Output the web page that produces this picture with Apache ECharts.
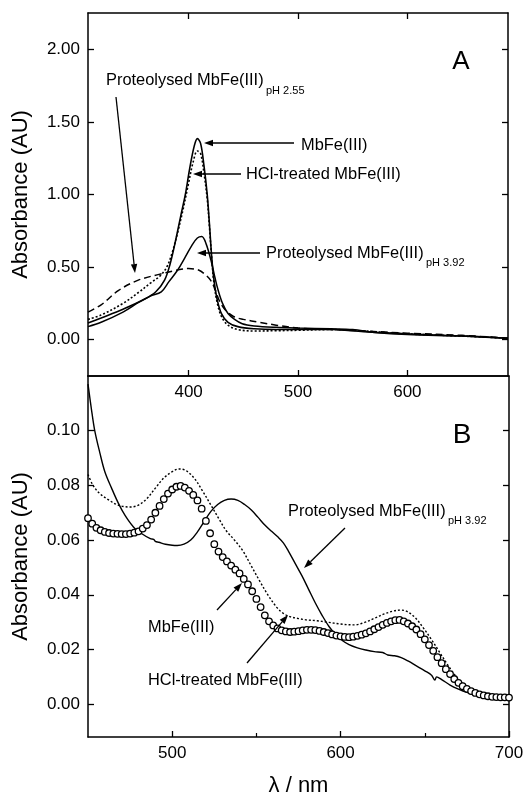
<!DOCTYPE html>
<html><head><meta charset="utf-8">
<script src="https://cdn.jsdelivr.net/npm/echarts@6/dist/echarts.min.js"></script>
<style>html,body{margin:0;padding:0;background:#fff}#c{width:527px;height:798px}</style>
</head><body><div id="c"></div>
<script>
const FONT = 'Liberation Sans, Arial, sans-serif';

// ---------- Panel A (top) ----------
const topMbWl  = [308, 320, 340, 360, 370, 378, 383, 388, 393, 397, 401, 405, 408, 411, 414, 417, 419, 421, 423, 426, 430, 436, 445, 460, 480, 500, 530, 560, 600, 650, 692];
const topMbAbs = [0.115, 0.15, 0.21, 0.28, 0.33, 0.41, 0.52, 0.68, 0.86, 1.00, 1.18, 1.33, 1.385, 1.35, 1.20, 1.00, 0.80, 0.58, 0.42, 0.28, 0.18, 0.12, 0.09, 0.075, 0.07, 0.07, 0.07, 0.055, 0.04, 0.025, 0.01];

const topHclWl  = [308, 320, 340, 355, 365, 374, 380, 385, 390, 395, 400, 404, 408, 411, 414, 417, 419, 421, 423, 426, 430, 436, 445, 460, 480, 500, 530, 560, 600, 650, 692];
const topHclAbs = [0.14, 0.17, 0.25, 0.33, 0.39, 0.44, 0.50, 0.60, 0.74, 0.90, 1.08, 1.22, 1.30, 1.28, 1.15, 0.97, 0.78, 0.57, 0.40, 0.26, 0.16, 0.10, 0.07, 0.06, 0.062, 0.065, 0.07, 0.06, 0.04, 0.025, 0.01];

const topP392Wl  = [308, 320, 340, 355, 365, 375, 382, 390, 397, 403, 408, 412, 416, 421, 424, 427, 431, 436, 442, 449, 460, 480, 500, 530, 550, 570, 600, 650, 692];
const topP392Abs = [0.09, 0.12, 0.19, 0.26, 0.30, 0.33, 0.40, 0.48, 0.57, 0.65, 0.70, 0.71, 0.66, 0.53, 0.43, 0.34, 0.25, 0.18, 0.14, 0.11, 0.095, 0.085, 0.08, 0.075, 0.07, 0.05, 0.035, 0.025, 0.01];

const topP255Wl  = [308, 320, 336, 354, 373, 390, 400, 409, 415, 420, 424, 428, 433, 441, 450, 465, 480, 500, 530, 560, 600, 650, 692];
const topP255Abs = [0.19, 0.24, 0.34, 0.41, 0.45, 0.48, 0.49, 0.48, 0.45, 0.41, 0.35, 0.27, 0.21, 0.16, 0.14, 0.12, 0.10, 0.08, 0.07, 0.06, 0.045, 0.03, 0.01];

// ---------- Panel B (bottom) ----------
const botMbWl = [450, 452.5, 455, 457.5, 460, 462.5, 465, 467.5, 470, 472.5, 475, 477.5, 480, 482.5, 485, 487.5, 490, 492.5, 495, 497.5, 500, 502.5, 505, 507.5, 510, 512.5, 515, 517.5, 520, 522.5, 525, 527.5, 530, 532.5, 535, 537.5, 540, 542.5, 545, 547.5, 550, 552.5, 555, 557.5, 560, 562.5, 565, 567.5, 570, 572.5, 575, 577.5, 580, 582.5, 585, 587.5, 590, 592.5, 595, 597.5, 600, 602.5, 605, 607.5, 610, 612.5, 615, 617.5, 620, 622.5, 625, 627.5, 630, 632.5, 635, 637.5, 640, 642.5, 645, 647.5, 650, 652.5, 655, 657.5, 660, 662.5, 665, 667.5, 670, 672.5, 675, 677.5, 680, 682.5, 685, 687.5, 690, 692.5, 695, 697.5, 700];
const botMbAbs = [0.0680, 0.0660, 0.0645, 0.0636, 0.0630, 0.0626, 0.0624, 0.0623, 0.0622, 0.0622, 0.0624, 0.0627, 0.0632, 0.0642, 0.0655, 0.0675, 0.0700, 0.0725, 0.0750, 0.0770, 0.0785, 0.0795, 0.0798, 0.0792, 0.0780, 0.0765, 0.0745, 0.0715, 0.0670, 0.0625, 0.0585, 0.0558, 0.0538, 0.0522, 0.0507, 0.0492, 0.0478, 0.0458, 0.0438, 0.0413, 0.0385, 0.0355, 0.0325, 0.0303, 0.0288, 0.0277, 0.0270, 0.0266, 0.0264, 0.0265, 0.0267, 0.0270, 0.0272, 0.0272, 0.0271, 0.0268, 0.0264, 0.0260, 0.0255, 0.0251, 0.0248, 0.0246, 0.0245, 0.0247, 0.0250, 0.0254, 0.0259, 0.0266, 0.0274, 0.0282, 0.0290, 0.0297, 0.0303, 0.0307, 0.0308, 0.0303, 0.0295, 0.0285, 0.0273, 0.0256, 0.0237, 0.0216, 0.0195, 0.0172, 0.0150, 0.0128, 0.0110, 0.0092, 0.0078, 0.0066, 0.0056, 0.0048, 0.0041, 0.0036, 0.0032, 0.0029, 0.0027, 0.0026, 0.0025, 0.0025, 0.0024];

const botHclWl  = [450, 453, 457, 462, 467, 471, 475, 480, 485, 490, 495, 500, 504, 508, 513, 518, 523, 528, 532, 537, 542, 547, 552, 557, 562, 566, 570, 575, 580, 586, 592, 600, 608, 614, 620, 626, 631, 635, 639, 644, 649, 654, 659, 664, 669, 674, 680, 686, 692, 700];
const botHclAbs = [0.0840, 0.0800, 0.0770, 0.0748, 0.0730, 0.0723, 0.0721, 0.0728, 0.0752, 0.0790, 0.0827, 0.0850, 0.0860, 0.0855, 0.0827, 0.0780, 0.0728, 0.0675, 0.0635, 0.0600, 0.0560, 0.0505, 0.0450, 0.0398, 0.0355, 0.0332, 0.0320, 0.0313, 0.0308, 0.0305, 0.0300, 0.0293, 0.0290, 0.0298, 0.0314, 0.0330, 0.0340, 0.0344, 0.0340, 0.0318, 0.0280, 0.0236, 0.0188, 0.0140, 0.0098, 0.0070, 0.0048, 0.0035, 0.0028, 0.0025];

const botP392Wl  = [450, 452, 454, 457, 460, 464, 468, 472, 477, 482, 487, 489, 490, 492, 496, 500, 503, 507, 511, 515, 519, 523, 527, 531, 535, 539, 543, 547, 551, 555, 559, 563, 566, 569, 573, 577, 581, 585, 589, 593, 597, 601, 605, 610, 615, 620, 625, 628, 632, 636, 640, 645, 650, 654, 656, 657, 660, 665, 670, 675, 680, 685, 690, 695, 700];
const botP392Abs = [0.1170, 0.1080, 0.1000, 0.0920, 0.0850, 0.0790, 0.0735, 0.0690, 0.0648, 0.0623, 0.0605, 0.0603, 0.0595, 0.0592, 0.0585, 0.0581, 0.0580, 0.0585, 0.0600, 0.0630, 0.0668, 0.0705, 0.0730, 0.0745, 0.0750, 0.0745, 0.0730, 0.0710, 0.0683, 0.0655, 0.0632, 0.0610, 0.0590, 0.0560, 0.0515, 0.0470, 0.0420, 0.0370, 0.0325, 0.0285, 0.0255, 0.0233, 0.0218, 0.0206, 0.0198, 0.0192, 0.0189, 0.0180, 0.0177, 0.0170, 0.0158, 0.0140, 0.0122, 0.0106, 0.0088, 0.0100, 0.0090, 0.0070, 0.0055, 0.0043, 0.0035, 0.0030, 0.0026, 0.0024, 0.0023];

// ---------- Axis ticks ----------
const topXTicks = [400, 500, 600];
const topYTicks = [0, 0.5, 1.0, 1.5, 2.0];
const botXTicks = [500, 600, 700];
const botXMinor = [550, 650];
const botYTicks = [0, 0.02, 0.04, 0.06, 0.08, 0.10];

function zip(a, b) { return a.map((x, i) => [x, b[i]]); }

const chart = echarts.init(document.getElementById('c'));
const lineAx = { show: true, onZero: false, lineStyle: { color: '#000', width: 1.5 } };

function xAx(grid, pos, min, max, ticks, labels, extra) {
  return Object.assign({
    type: 'value', gridIndex: grid, position: pos, min: min, max: max,
    axisLine: lineAx,
    axisTick: { show: true, inside: true, length: 6, customValues: ticks, lineStyle: { color: '#000', width: 1.3 } },
    axisLabel: labels ? { show: true, customValues: labels, fontSize: 17, color: '#000', fontFamily: FONT, margin: 8 } : { show: false },
    splitLine: { show: false }
  }, extra || {});
}
function yAx(grid, pos, min, max, ticks, labels, extra) {
  return Object.assign({
    type: 'value', gridIndex: grid, position: pos, min: min, max: max,
    axisLine: lineAx,
    axisTick: { show: true, inside: true, length: 6, customValues: ticks, lineStyle: { color: '#000', width: 1.3 } },
    axisLabel: labels ? { show: true, customValues: labels, fontSize: 17, color: '#000', fontFamily: FONT, margin: 8,
      formatter: v => v.toFixed(2) } : { show: false },
    splitLine: { show: false }
  }, extra || {});
}
const nameStyle = { fontSize: 22, color: '#000', fontFamily: FONT };

function lineSeries(xi, yi, data, type, width) {
  return {
    type: 'line', xAxisIndex: xi, yAxisIndex: yi, data: data, showSymbol: false, smooth: 0.35,
    lineStyle: { color: '#000', width: width || 1.5, type: type },
    z: 3
  };
}

function arrow(x1, y1, x2, y2) {
  const dx = x2 - x1, dy = y2 - y1, L = Math.hypot(dx, dy), ux = dx / L, uy = dy / L;
  const hl = 9, hw = 3.2;
  const bx = x2 - ux * hl, by = y2 - uy * hl;
  return [
    { type: 'line', shape: { x1: x1, y1: y1, x2: bx, y2: by }, style: { stroke: '#000', lineWidth: 1.3 }, z: 10 },
    { type: 'polygon', shape: { points: [[x2, y2], [bx - uy * hw, by + ux * hw], [bx + uy * hw, by - ux * hw]] }, style: { fill: '#000' }, z: 10 }
  ];
}
function txt(x, y, s, size) {
  return { type: 'text', x: x, y: y, z: 10,
    style: { text: s, fill: '#000', font: (size || 16) + 'px ' + FONT, verticalAlign: 'middle', align: 'left' } };
}
function ctxt(x, y, s, size) {
  return { type: 'text', x: x, y: y, z: 10,
    style: { text: s, fill: '#000', font: size + 'px ' + FONT, verticalAlign: 'middle', align: 'center' } };
}

const graphics = [].concat(
  // Panel A
  [txt(106, 80, 'Proteolysed MbFe(III)', 16.4), txt(266, 91, 'pH 2.55', 11)],
  arrow(116, 97, 135, 273),
  [txt(301, 145, 'MbFe(III)', 16.4)], arrow(294, 143, 204, 143),
  [txt(246, 174, 'HCl-treated MbFe(III)', 16.4)], arrow(241, 174, 193, 174),
  [txt(266, 253, 'Proteolysed MbFe(III)', 16.4), txt(426, 263, 'pH 3.92', 11)], arrow(260, 253, 197, 253),
  [ctxt(461, 62, 'A', 26)],
  // Panel B
  [txt(288, 511, 'Proteolysed MbFe(III)', 16.4), txt(448, 521, 'pH 3.92', 11)], arrow(345, 528, 304, 568),
  [txt(148, 627, 'MbFe(III)', 16.4)], arrow(217, 610, 242, 583),
  [txt(148, 680, 'HCl-treated MbFe(III)', 16.4)], arrow(247, 663, 288, 615),
  [ctxt(462, 435, 'B', 28)]
);

chart.setOption({
  animation: false,
  backgroundColor: '#fff',
  grid: [
    { left: 88, top: 13, width: 420, height: 363 },
    { left: 88, top: 376, width: 421, height: 362 }
  ],
  xAxis: [
    xAx(0, 'bottom', 308, 692, topXTicks, topXTicks),
    xAx(0, 'top', 308, 692, topXTicks, null),
    xAx(1, 'bottom', 450, 700, botXTicks, botXTicks,
      { name: 'λ / nm', nameLocation: 'middle', nameGap: 38, nameTextStyle: nameStyle }),
    xAx(1, 'top', 450, 700, [], null, { axisTick: { show: false } }),
    xAx(1, 'bottom', 450, 700, botXMinor, null, {
      axisLine: { show: false, onZero: false },
      axisTick: { show: true, inside: true, length: 4, customValues: botXMinor, lineStyle: { color: '#000', width: 1.2 } }
    })
  ],
  yAxis: [
    yAx(0, 'left', -0.25, 2.25, topYTicks, topYTicks,
      { name: 'Absorbance (AU)', nameLocation: 'middle', nameGap: 56, nameTextStyle: nameStyle }),
    yAx(0, 'right', -0.25, 2.25, topYTicks, null),
    yAx(1, 'left', -0.012, 0.12, botYTicks, botYTicks,
      { name: 'Absorbance (AU)', nameLocation: 'middle', nameGap: 56, nameTextStyle: nameStyle }),
    yAx(1, 'right', -0.012, 0.12, botYTicks, null)
  ],
  series: [
    lineSeries(0, 0, zip(topMbWl, topMbAbs), 'solid', 1.6),
    lineSeries(0, 0, zip(topHclWl, topHclAbs), [2, 2], 1.6),
    lineSeries(0, 0, zip(topP392Wl, topP392Abs), 'solid', 1.5),
    lineSeries(0, 0, zip(topP255Wl, topP255Abs), [7, 4], 1.5),
    lineSeries(2, 2, zip(botP392Wl, botP392Abs), 'solid', 1.4),
    lineSeries(2, 2, zip(botHclWl, botHclAbs), [2, 2], 1.4),
    {
      type: 'scatter', xAxisIndex: 2, yAxisIndex: 2, data: zip(botMbWl, botMbAbs),
      symbol: 'circle', symbolSize: 6.5,
      itemStyle: { color: '#fff', borderColor: '#000', borderWidth: 1.3, opacity: 1 },
      z: 4
    }
  ],
  graphic: graphics
});
</script>
</body></html>
